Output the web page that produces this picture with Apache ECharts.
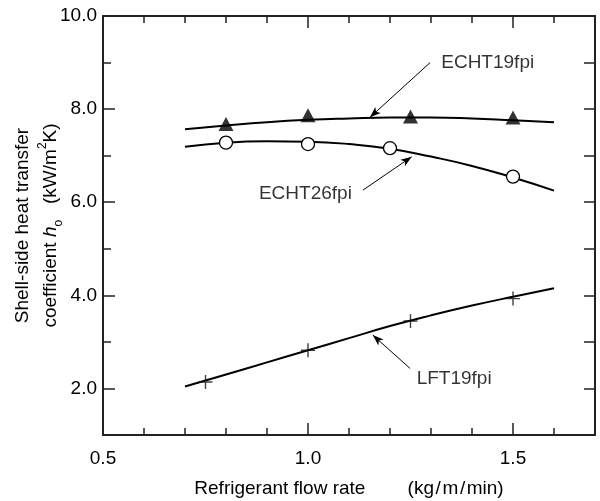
<!DOCTYPE html>
<html>
<head>
<meta charset="utf-8">
<script src="https://cdn.jsdelivr.net/npm/echarts@6/dist/echarts.min.js"></script>
<style>html,body{margin:0;padding:0;background:#fff}#c{width:600px;height:501px}</style>
</head>
<body>
<div id="c"></div>
<script>
// ---- data ----
var xTickLabels = [0.5, 1.0, 1.5];
var xMajorTicks = [1.0, 1.5];
var xMinorTicks = [0.6, 0.7, 0.8, 0.9, 1.1, 1.2, 1.3, 1.4, 1.6];
var yTickLabels = [2, 4, 6, 8, 10];
var yMajorTicks = [2, 4, 6, 8];
var yMinorTicks = [3, 5, 7, 9];
var yRightTicks = [2, 3, 4, 5, 6, 7, 8, 9];

var echt19X = [0.8, 1.0, 1.25, 1.5];
var echt19Y = [7.68, 7.87, 7.84, 7.82];
var echt26X = [0.8, 1.0, 1.2, 1.5];
var echt26Y = [7.28, 7.25, 7.16, 6.55];
var lftX = [0.75, 1.0, 1.25, 1.5];
var lftY = [2.14, 2.82, 3.45, 3.93];

var fitX = [0.7, 0.8, 0.9, 1.0, 1.1, 1.2, 1.3, 1.4, 1.5, 1.6];
var echt19Fit = [7.57, 7.65, 7.72, 7.77, 7.80, 7.82, 7.82, 7.80, 7.76, 7.72];
var echt26Fit = [7.19, 7.28, 7.31, 7.30, 7.25, 7.15, 6.98, 6.78, 6.53, 6.25];
var lftFit = [2.04, 2.30, 2.56, 2.82, 3.08, 3.34, 3.57, 3.78, 3.97, 4.15];

var labelNames = ['ECHT19fpi', 'ECHT26fpi', 'LFT19fpi'];
var labelX = [1.325, 1.107, 1.265];
var labelY = [9.0, 6.18, 2.215];
var arrowFromX = [1.298, 1.134, 1.249];
var arrowFromY = [9.0, 6.26, 2.43];
var arrowToX = [1.151, 1.253, 1.158];
var arrowToY = [7.823, 6.977, 3.146];

// ---- chart ----
var FONT = 'Liberation Sans, Arial, sans-serif';
var INK = '#000';
function zip(a, b) { return a.map(function (v, i) { return [v, b[i]]; }); }

var chart = echarts.init(document.getElementById('c'), null, { renderer: 'canvas' });

function xAx(pos, ticks, len, showLine, showLabel) {
  return {
    type: 'value', position: pos, min: 0.5, max: 1.7,
    axisLine: { show: showLine, onZero: false, lineStyle: { color: '#222', width: 2 } },
    axisTick: { show: true, inside: true, length: len, customValues: ticks, lineStyle: { color: '#222', width: 1.5 } },
    axisLabel: showLabel ? { show: true, customValues: xTickLabels, formatter: function (v) { return v.toFixed(1); },
      fontFamily: FONT, fontSize: 19, color: INK, margin: 14 } : { show: false },
    splitLine: { show: false }
  };
}
function yAx(pos, ticks, len, showLine, showLabel) {
  return {
    type: 'value', position: pos, min: 1, max: 10,
    axisLine: { show: showLine, onZero: false, lineStyle: { color: '#222', width: 2 } },
    axisTick: { show: true, inside: true, length: len, customValues: ticks, lineStyle: { color: '#222', width: 1.5 } },
    axisLabel: showLabel ? { show: true, customValues: yTickLabels, formatter: function (v) { return v.toFixed(1); },
      fontFamily: FONT, fontSize: 19, color: INK, margin: 6 } : { show: false },
    splitLine: { show: false }
  };
}

var xAxes = [
  xAx('bottom', xMajorTicks, 12, true, true),
  xAx('bottom', xMinorTicks, 7, false, false),
  xAx('top', xMajorTicks, 12, true, false),
  xAx('top', xMinorTicks, 7, false, false)
];
xAxes[0].name = 'Refrigerant flow rate        (kg\u200A/\u200Am\u200A/\u200Amin)';
xAxes[0].nameLocation = 'middle';
xAxes[0].nameGap = 44;
xAxes[0].nameMoveOverlap = false;
xAxes[0].nameTextStyle = { fontFamily: FONT, fontSize: 19, color: INK };

var yAxes = [
  yAx('left', yMajorTicks, 12, true, true),
  yAx('left', yMinorTicks, 8, false, false),
  yAx('right', yRightTicks, 11, true, false)
];
yAxes[0].name = 'Shell-side heat transfer\ncoefficient {i|h}{sub|o}   (kW/m{sup|2}K)';
yAxes[0].nameLocation = 'middle';
yAxes[0].nameRotate = 90;
yAxes[0].nameGap = 38;
yAxes[0].nameMoveOverlap = false;
yAxes[0].nameTextStyle = {
  fontFamily: FONT, fontSize: 19, color: INK, lineHeight: 28, align: 'center',
  rich: {
    i: { fontFamily: FONT, fontSize: 19, fontStyle: 'italic', color: INK, lineHeight: 28 },
    sub: { fontFamily: FONT, fontSize: 12, color: INK, verticalAlign: 'bottom', lineHeight: 16 },
    sup: { fontFamily: FONT, fontSize: 12, color: INK, verticalAlign: 'top', lineHeight: 16 }
  }
};

var lineStyleFit = { color: INK, width: 2 };

var annotationData = labelNames.map(function (n, i) {
  return { name: n, value: [labelX[i], labelY[i]],
    label: { position: i === 1 ? 'left' : 'right', distance: 0 } };
});
var arrowData = arrowFromX.map(function (v, i) {
  return [{ coord: [arrowFromX[i], arrowFromY[i]] }, { coord: [arrowToX[i], arrowToY[i]] }];
});

chart.setOption({
  animation: false,
  backgroundColor: '#fff',
  grid: { left: 103, top: 16, right: 5, bottom: 66, containLabel: false, outerBoundsMode: 'none' },
  xAxis: xAxes,
  yAxis: yAxes,
  series: [
    { type: 'line', smooth: 0.5, showSymbol: false, data: zip(fitX, echt19Fit), lineStyle: lineStyleFit, silent: true },
    { type: 'line', smooth: 0.5, showSymbol: false, data: zip(fitX, echt26Fit), lineStyle: lineStyleFit, silent: true },
    { type: 'line', smooth: 0.5, showSymbol: false, data: zip(fitX, lftFit), lineStyle: lineStyleFit, silent: true },
    { type: 'scatter', data: zip(echt19X, echt19Y), symbol: 'triangle', symbolSize: [15, 14],
      itemStyle: { color: INK }, z: 5 },
    { type: 'scatter', data: zip(echt26X, echt26Y), symbol: 'circle', symbolSize: 13,
      itemStyle: { color: '#fff', borderColor: INK, borderWidth: 1.3, opacity: 1 }, z: 5 },
    { type: 'scatter', data: zip(lftX, lftY), symbol: 'path://M0,4.5h10v1h-10z M4.5,0h1v10h-1z', symbolSize: 14,
      itemStyle: { color: '#111' }, z: 5 },
    { type: 'scatter', data: annotationData, symbolSize: 0, silent: true,
      label: { show: true, formatter: '{b}', fontFamily: FONT, fontSize: 19, color: INK },
      markLine: {
        silent: true, symbol: ['none', 'arrow'], symbolSize: [6, 11],
        lineStyle: { color: INK, width: 1, type: 'solid' },
        label: { show: false },
        data: arrowData
      }
    }
  ]
});
</script>
</body>
</html>
